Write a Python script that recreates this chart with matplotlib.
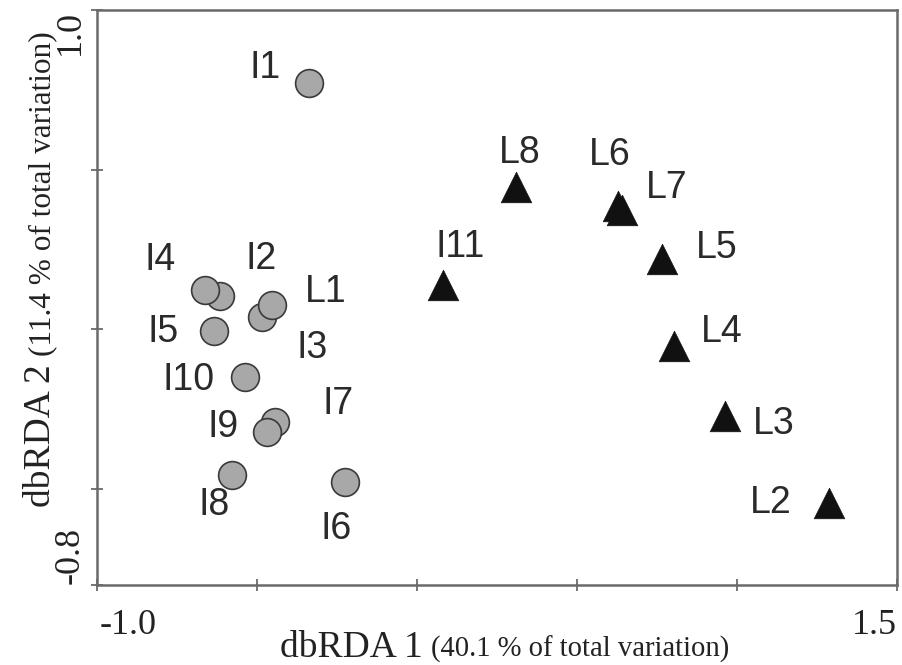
import matplotlib
matplotlib.use("Agg")
import matplotlib.pyplot as plt

# ---- data ----
circle_names = ["I1", "I2", "I4", "I3", "L1", "I5", "I10", "I7", "I9", "I8", "I6"]
circle_x = [-0.338, -0.616, -0.663, -0.484, -0.453, -0.634, -0.538, -0.444, -0.469, -0.578, -0.225]
circle_y = [0.773, 0.106, 0.122, 0.038, 0.075, -0.006, -0.150, -0.291, -0.322, -0.457, -0.479]

tri_names = ["I11", "L8", "L6", "L7", "L5", "L4", "L3", "L2"]
tri_x = [0.081, 0.309, 0.628, 0.641, 0.766, 0.803, 0.963, 1.288]
tri_y = [0.138, 0.445, 0.385, 0.373, 0.219, -0.053, -0.272, -0.542]

# label offsets (pixels) relative to each marker
circle_off = {"I1": (-44, 15), "I4": (-45, 30), "I2": (41, 37), "L1": (54, 13),
              "I3": (50, -31), "I5": (-51, -1), "I10": (-56, -3), "I7": (63, 18),
              "I9": (-44, 5), "I8": (-18, -30), "I6": (-9, -47)}
tri_off = {"I11": (17, 38), "L8": (4, 34), "L6": (-8, 51), "L7": (45, 22),
           "L5": (55, 11), "L4": (48, 14), "L3": (49, -8), "L2": (-58, 0)}

xlim = (-1.0, 1.5)
ylim = (-0.8, 1.0)
xticks = [-1.0, -0.5, 0.0, 0.5, 1.0, 1.5]
yticks = [-0.8, -0.5, 0.0, 0.5, 1.0]

W, H = 902, 665
fig = plt.figure(figsize=(W / 100, H / 100), dpi=100)
ax = fig.add_axes([97 / W, 1 - 585 / H, 800 / W, 575 / H])
ax.set_xlim(*xlim)
ax.set_ylim(*ylim)

spine_col = "#6a6a6a"
for s in ax.spines.values():
    s.set_color(spine_col)
    s.set_linewidth(1.8)
ax.set_xticks(xticks)
ax.set_yticks(yticks)
ax.tick_params(direction="inout", length=9, width=1.3, color=spine_col,
               labelbottom=False, labelleft=False)

ax.scatter(circle_x, circle_y, s=20 ** 2, marker="o", facecolor="#a8a8a8",
           edgecolor="#3a3a3a", linewidth=1.2, zorder=3)
ax.scatter(tri_x, tri_y, s=22 ** 2, marker="^", facecolor="#111111",
           edgecolor="#111111", linewidth=0.5, zorder=3)

lab_font = dict(family=["Liberation Sans", "DejaVu Sans"], fontsize=27, color="#2a2a2a")
for n, x, y in zip(circle_names, circle_x, circle_y):
    ax.annotate(n, (x, y), xytext=circle_off[n], textcoords="offset pixels",
                ha="center", va="center", **lab_font)
for n, x, y in zip(tri_names, tri_x, tri_y):
    ax.annotate(n, (x, y), xytext=tri_off[n], textcoords="offset pixels",
                ha="center", va="center", **lab_font)

serif = ["Liberation Serif", "DejaVu Serif"]
tcol = "#222222"


def fx(p):
    return p / W


def fy(p):
    return 1 - p / H


# tick labels
fig.text(fx(100), fy(634), "-1.0", family=serif, fontsize=26, color=tcol, ha="left", va="baseline")
fig.text(fx(897), fy(634), "1.5", family=serif, fontsize=26, color=tcol, ha="right", va="baseline")
fig.text(fx(70), fy(10), "1.0", family=serif, fontsize=26, color=tcol, ha="center", va="top", rotation=90)
fig.text(fx(70), fy(584), "-0.8", family=serif, fontsize=26, color=tcol, ha="center", va="bottom", rotation=90)

# axis labels (two sizes)
fig.canvas.draw()
r = fig.canvas.get_renderer()
t1 = fig.text(fx(280), fy(657), "dbRDA 1", family=serif, fontsize=27, color=tcol,
              ha="left", va="baseline")
bb = t1.get_window_extent(r)
fig.text((bb.x1 + 8) / W, fy(657), "(40.1 % of total variation)", family=serif,
         fontsize=20.6, color=tcol, ha="left", va="baseline")

t2 = fig.text(fx(50), fy(507), "dbRDA 2", family=serif, fontsize=27, color=tcol,
              ha="left", va="baseline", rotation=90, rotation_mode="anchor")
bb2 = t2.get_window_extent(r)
fig.text(fx(50), (bb2.y1 + 8) / H, "(11.4 % of total variation)", family=serif,
         fontsize=22.5, color=tcol, ha="left", va="baseline", rotation=90, rotation_mode="anchor")

fig.savefig("out.png", dpi=100, facecolor="white")
